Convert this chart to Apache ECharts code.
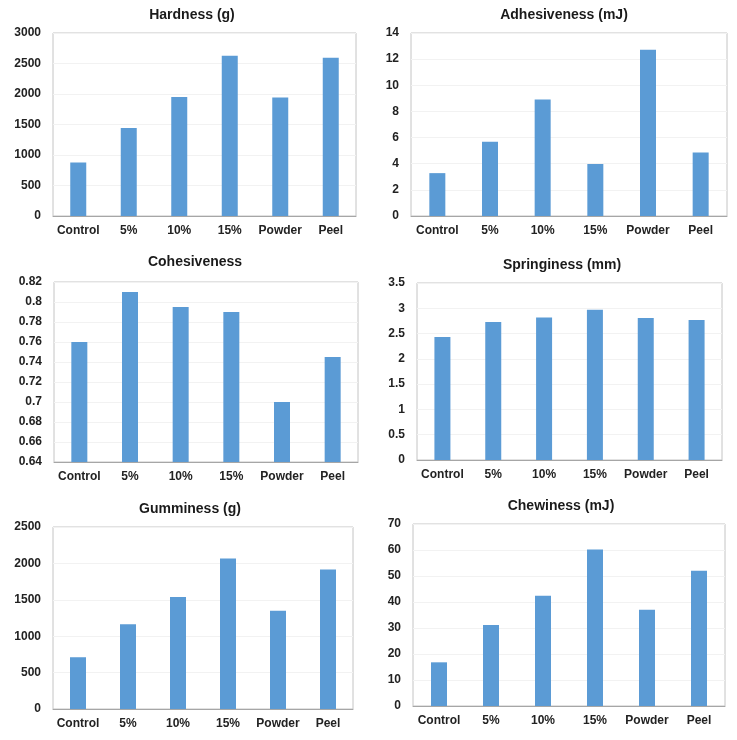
<!DOCTYPE html>
<html><head><meta charset="utf-8">
<script src="https://cdn.jsdelivr.net/npm/echarts@6/dist/echarts.min.js"></script>
<style>html,body{margin:0;padding:0;background:#fff}#c{width:737px;height:740px}</style>
</head><body><div id="c"></div>
<script>
const categories = ['Control','5%','10%','15%','Powder','Peel'];
const titles = ['Hardness (g)','Adhesiveness (mJ)','Cohesiveness','Springiness (mm)','Gumminess (g)','Chewiness (mJ)'];
const hardness = [878, 1442, 1952, 2627, 1941, 2594];
const adhesiveness = [3.28, 5.68, 8.91, 3.97, 12.72, 4.86];
const cohesiveness = [0.76, 0.81, 0.795, 0.79, 0.70, 0.745];
const springiness = [2.43, 2.73, 2.82, 2.97, 2.81, 2.77];
const gumminess = [711, 1165, 1537, 2069, 1349, 1917];
const chewiness = [16.8, 31.2, 42.4, 60.2, 37.0, 52.0];
const seriesData = [hardness, adhesiveness, cohesiveness, springiness, gumminess, chewiness];
const yMin = [0, 0, 0.64, 0, 0, 0];
const yMax = [3000, 14, 0.82, 3.5, 2500, 70];
const yInterval = [500, 2, 0.02, 0.5, 500, 10];

const grids = [
  {left:53, top:33, width:303, height:183},
  {left:411, top:33, width:316, height:183},
  {left:54, top:282, width:304, height:180},
  {left:417, top:283, width:305, height:177},
  {left:53, top:527, width:300, height:182},
  {left:413, top:524, width:312, height:182}
];
const titlePos = [
  {x:187, y:12},{x:559, y:12},{x:190, y:259},{x:557, y:262},{x:185, y:506},{x:556, y:503}
];
const font = '"Liberation Sans", Arial, sans-serif';
const chart = echarts.init(document.getElementById('c'));
const option = {
  animation:false,
  title: titles.map((t,i)=>({text:t, left:titlePos[i].x, top:titlePos[i].y-9, textAlign:'center',
    textStyle:{fontSize:14, fontWeight:'bold', color:'#1a1a1a', fontFamily:font}})),
  grid: grids.map(g=>Object.assign({show:true, borderColor:'#c4c4c4', borderWidth:1, backgroundColor:'#fff'}, g)),
  xAxis: grids.map((g,i)=>({type:'category', gridIndex:i, data:categories,
    axisLine:{lineStyle:{color:'#a6a6a6'}}, axisTick:{show:false},
    axisLabel:{fontSize:12, fontWeight:'bold', color:'#222', fontFamily:font, margin:9, interval:0}})),
  yAxis: grids.map((g,i)=>({type:'value', gridIndex:i, min:yMin[i], max:yMax[i], interval:yInterval[i],
    axisLine:{show:false}, axisTick:{show:false},
    splitLine:{show:true, lineStyle:{color:'#f2f2f2'}},
    axisLabel:{fontSize:12, fontWeight:'bold', color:'#222', fontFamily:font, margin:12,
      formatter: v => String(parseFloat(v.toFixed(4)))}})),
  series: seriesData.map((d,i)=>({type:'bar', xAxisIndex:i, yAxisIndex:i, data:d, barWidth:16,
    itemStyle:{color:'#5b9bd5'}}))
};
chart.setOption(option);
</script>
</body></html>
